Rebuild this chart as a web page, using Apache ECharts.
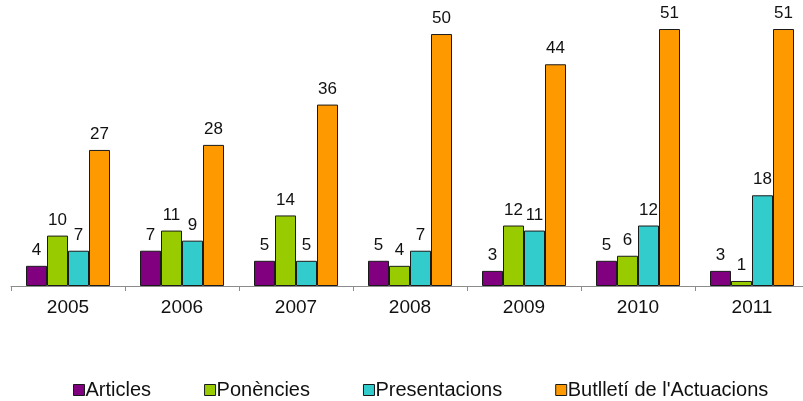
<!DOCTYPE html>
<html>
<head>
<meta charset="utf-8">
<script src="https://cdn.jsdelivr.net/npm/echarts@6/dist/echarts.min.js"></script>
<style>
  html, body { margin: 0; padding: 0; background: #fff; }
  #chart { width: 803px; height: 401px; }
</style>
</head>
<body>
<div id="chart"></div>
<script>
const years = ['2005', '2006', '2007', '2008', '2009', '2010', '2011']
const articles = [4, 7, 5, 5, 3, 5, 3]
const ponencies = [10, 11, 14, 4, 12, 6, 1]
const presentacions = [7, 9, 5, 7, 11, 12, 18]
const butlleti = [27, 28, 36, 50, 44, 51, 51]

const chart = echarts.init(document.getElementById('chart'))

function bar(name, data, color) {
  return {
    name,
    type: 'bar',
    data,
    barWidth: 21,
    barGap: '0%',
    itemStyle: { color, borderColor: '#1a1a1a', borderWidth: 1 },
    label: {
      show: true,
      position: 'top',
      distance: 7,
      color: '#111',
      fontSize: 17,
      fontFamily: 'Liberation Sans',
    },
  }
}

chart.setOption({
  backgroundColor: '#fff',
  animation: false,
  grid: { left: 11, top: 29, width: 798, bottom: 115, outerBoundsMode: 'none' },
  xAxis: {
    type: 'category',
    data: years,
    axisLine: { lineStyle: { color: '#8c8c8c', width: 1 } },
    axisTick: { show: true, length: 5, lineStyle: { color: '#8c8c8c' } },
    axisLabel: { color: '#111', fontSize: 19, fontFamily: 'Liberation Sans', margin: 12 },
  },
  yAxis: {
    type: 'value',
    min: 0,
    max: 51,
    show: false,
    splitLine: { show: false },
  },
  legend: {
    left: 68,
    top: 375,
    itemWidth: 11,
    itemHeight: 11,
    itemGap: 53,
    icon: 'rect',
    textStyle: { color: '#111', fontSize: 20, fontFamily: 'Liberation Sans', padding: [0, 0, 0, -4] },
    itemStyle: { borderColor: '#1a1a1a', borderWidth: 1 },
  },
  series: [
    bar('Articles', articles, '#800080'),
    bar('Ponències', ponencies, '#99cc00'),
    bar('Presentacions', presentacions, '#33cccc'),
    bar("Butlletí de l'Actuacions", butlleti, '#ff9900'),
  ],
})
</script>
</body>
</html>
